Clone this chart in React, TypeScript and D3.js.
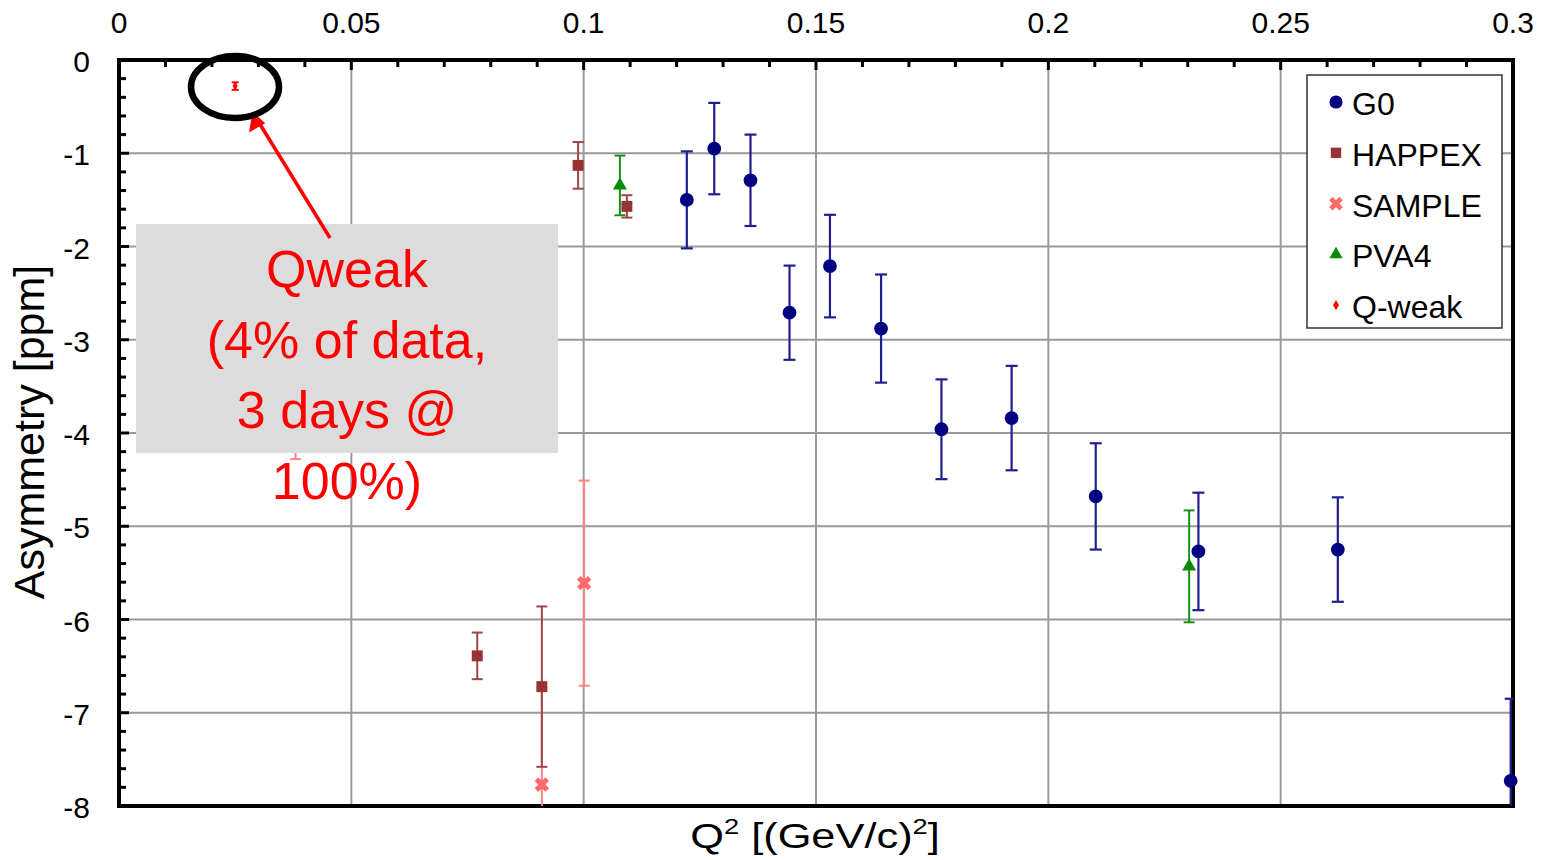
import React from "react";
import * as d3 from "d3";

// ---- data ----
const g0Q2 = [0.1222, 0.1281, 0.1359, 0.1443, 0.153, 0.164, 0.177, 0.1921, 0.2102, 0.2323, 0.2623, 0.2995];
const g0A = [-1.50, -0.95, -1.29, -2.71, -2.21, -2.88, -3.96, -3.84, -4.68, -5.27, -5.25, -7.73];
const g0Err = [0.52, 0.49, 0.49, 0.505, 0.55, 0.58, 0.535, 0.56, 0.57, 0.63, 0.56, 0.88];

const happexQ2 = [0.0771, 0.091, 0.0988, 0.1093];
const happexA = [-6.39, -6.72, -1.13, -1.57];
const happexErr = [0.25, 0.86, 0.25, 0.12];

const sampleQ2 = [0.038, 0.091, 0.1001];
const sampleA = [-3.51, -7.77, -5.61];
const sampleErr = [0.77, 1.03, 1.10];

const pva4Q2 = [0.1078, 0.2303];
const pva4A = [-1.345, -5.43];
const pva4Err = [0.32, 0.6];

const qweakQ2 = [0.025];
const qweakA = [-0.28];
const qweakErr = [0.04];

const xTicks = [0, 0.05, 0.1, 0.15, 0.2, 0.25, 0.3];
const xTickLabels = ["0", "0.05", "0.1", "0.15", "0.2", "0.25", "0.3"];
const yTicks = [0, -1, -2, -3, -4, -5, -6, -7, -8];
const yTickLabels = ["0", "-1", "-2", "-3", "-4", "-5", "-6", "-7", "-8"];

const legendNames = ["G0", "HAPPEX", "SAMPLE", "PVA4", "Q-weak"];
const annotationLines = ["Qweak", "(4% of data,", "3 days @", "100%)"];

// ---- layout ----
const W = 1544, H = 860;
const L = 119, R = 1513, T = 60, B = 806;
const FONT = "'Liberation Sans', Arial, Helvetica, sans-serif";

const x = d3.scaleLinear().domain([0, 0.3]).range([L, R]);
const y = d3.scaleLinear().domain([-8, 0]).range([B, T]);

type Series = {
  name: string; q: number[]; a: number[]; e: number[];
  marker: string; bar: string; symbol: d3.SymbolType; size: number; rot: number; cap: number; barW: number;
};

const series: Series[] = [
  { name: legendNames[3], q: pva4Q2, a: pva4A, e: pva4Err, marker: "#0a8a0a", bar: "#1a8f1a", symbol: d3.symbolTriangle, size: 85, rot: 0, cap: 11, barW: 2 },
  { name: legendNames[2], q: sampleQ2, a: sampleA, e: sampleErr, marker: "#ff6a6a", bar: "#ff8585", symbol: d3.symbolCross, size: 130, rot: 45, cap: 11, barW: 2 },
  { name: legendNames[1], q: happexQ2, a: happexA, e: happexErr, marker: "#993333", bar: "#a04545", symbol: d3.symbolSquare, size: 120, rot: 0, cap: 11, barW: 2 },
  { name: legendNames[0], q: g0Q2, a: g0A, e: g0Err, marker: "#000080", bar: "#1f1f8f", symbol: d3.symbolCircle, size: 150, rot: 0, cap: 12, barW: 2.2 },
  { name: legendNames[4], q: qweakQ2, a: qweakA, e: qweakErr, marker: "#ff0000", bar: "#ff0000", symbol: d3.symbolDiamond, size: 22, rot: 0, cap: 7, barW: 2 },
];

const legendOrder = [3, 2, 1, 0, 4];

export default function App() {
  const xMinor = d3.range(0, 0.3001, 0.01);
  const yMinor = d3.range(-8, 0.001, 0.2);
  const sym = (s: Series) => d3.symbol().type(s.symbol).size(s.size)() || "";
  const legSym = (s: Series) => d3.symbol().type(s.symbol).size(s.name === "Q-weak" ? 30 : s.size * 0.9)() || "";

  return (
    <svg width={W} height={H} style={{ position: "absolute", left: 0, top: 0, display: "block", background: "#fff" }} fontFamily={FONT}>
      <defs>
        <clipPath id="plotclip">
          <rect x={L} y={T} width={R - L} height={B - T} />
        </clipPath>
      </defs>
      <rect x={0} y={0} width={W} height={H} fill="#fff" />

      {/* grid */}
      <g stroke="#999" strokeWidth={2}>
        {xTicks.slice(1, -1).map((t) => (
          <line key={"gx" + t} x1={x(t)} x2={x(t)} y1={T} y2={B} />
        ))}
        {yTicks.slice(1, -1).map((t) => (
          <line key={"gy" + t} x1={L} x2={R} y1={y(t)} y2={y(t)} />
        ))}
      </g>

      {/* axes frame and ticks */}
      <g stroke="#000">
        <rect x={L} y={T} width={R - L} height={B - T} fill="none" strokeWidth={4} />
        {xMinor.map((t, i) => (
          <line key={"xm" + i} x1={x(t)} x2={x(t)} y1={T} y2={T + (i % 5 === 0 ? 10 : 7)} strokeWidth={3} />
        ))}
        {yMinor.map((t, i) => (
          <line key={"ym" + i} x1={L} x2={L + (i % 5 === 0 ? 10 : 7)} y1={y(t)} y2={y(t)} strokeWidth={3} />
        ))}
      </g>

      {/* tick labels */}
      <g fontSize={30} fill="#000">
        {xTicks.map((t, i) => (
          <text key={"xl" + t} x={x(t)} y={33} textAnchor="middle">{xTickLabels[i]}</text>
        ))}
        {yTicks.map((t, i) => (
          <text key={"yl" + t} x={90} y={y(t) + 12} textAnchor="end">{yTickLabels[i]}</text>
        ))}
      </g>

      {/* axis titles */}
      <text transform={`translate(44, 432) rotate(-90)`} textAnchor="middle" fontSize={43} fill="#000">Asymmetry [ppm]</text>
      <g transform="translate(815, 848) scale(1.24, 1)">
        <text textAnchor="middle" fontSize={35} fill="#000">
          Q<tspan fontSize={22} dy={-14}>2</tspan>
          <tspan dy={14}> [(GeV/c)</tspan>
          <tspan fontSize={22} dy={-14}>2</tspan>
          <tspan dy={14}>]</tspan>
        </text>
      </g>

      {/* data */}
      {series.map((s) => (
        <g key={s.name}>
          <g clipPath="url(#plotclip)" stroke={s.bar} strokeWidth={s.barW}>
            {s.q.map((q, i) => (
              <g key={i}>
                <line x1={x(q)} x2={x(q)} y1={y(s.a[i] + s.e[i])} y2={y(s.a[i] - s.e[i])} />
                <line x1={x(q) - s.cap / 2} x2={x(q) + s.cap / 2} y1={y(s.a[i] + s.e[i])} y2={y(s.a[i] + s.e[i])} />
                <line x1={x(q) - s.cap / 2} x2={x(q) + s.cap / 2} y1={y(s.a[i] - s.e[i])} y2={y(s.a[i] - s.e[i])} />
              </g>
            ))}
          </g>
          {s.q.map((q, i) => (
            <path key={"m" + i} d={sym(s)} fill={s.marker} transform={`translate(${x(q)},${y(s.a[i])}) rotate(${s.rot})`} />
          ))}
        </g>
      ))}

      {/* legend */}
      <g>
        <rect x={1307} y={75} width={195} height={253} fill="#fff" stroke="#333" strokeWidth={1.5} />
        {legendOrder.map((si, k) => {
          const s = series[si];
          const by = 115 + k * 50.8;
          return (
            <g key={"lg" + k}>
              <path d={legSym(s)} fill={s.marker} transform={`translate(1336,${by - 13}) rotate(${s.rot})`} />
              <text x={1352} y={by} fontSize={32} fill="#000">{s.name}</text>
            </g>
          );
        })}
      </g>

      {/* annotation */}
      <rect x={136} y={224} width={422} height={229} fill="#dcdcdc" />
      <g fontSize={52} fill="#ff0000" textAnchor="middle">
        {annotationLines.map((t, i) => (
          <text key={"an" + i} x={347} y={287 + i * 70.5}>{t}</text>
        ))}
      </g>
      <line x1={330} y1={238} x2={258} y2={121} stroke="#ff0000" strokeWidth={3.5} />
      <path d="M253,113 L250,131 L264,123 Z" fill="#ff0000" stroke="#ff0000" strokeWidth={1.5} strokeLinejoin="miter" />
      <ellipse cx={235} cy={87} rx={44} ry={31} fill="none" stroke="#000" strokeWidth={6.5} />
    </svg>
  );
}
